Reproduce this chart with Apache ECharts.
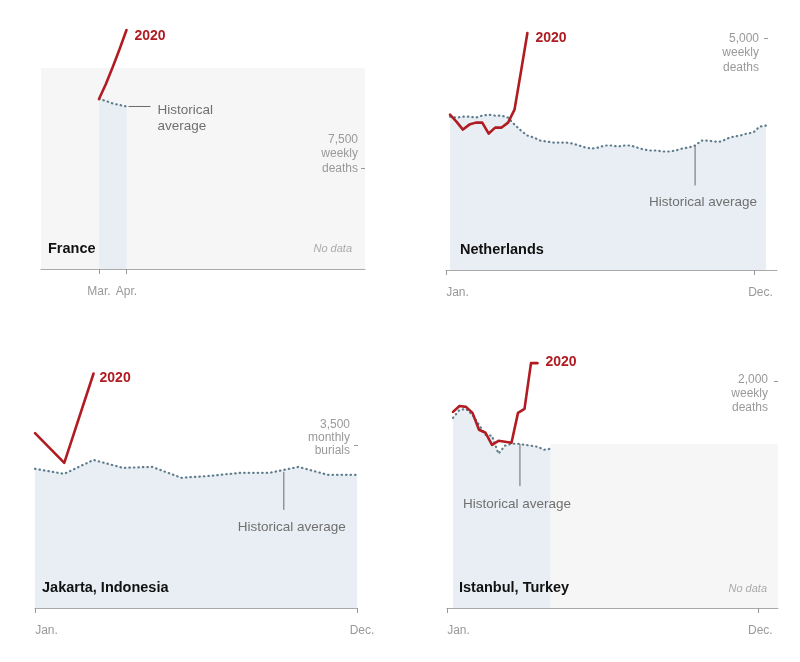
<!DOCTYPE html>
<html><head><meta charset="utf-8">
<script src="https://cdn.jsdelivr.net/npm/echarts@6/dist/echarts.min.js"></script>
<style>html,body{margin:0;padding:0;background:#fff}#c{width:800px;height:662px}</style>
</head><body><div id="c"></div>
<script>
// ---------------- data ----------------
// France (weekly, weeks of year)
const franceWeeks = [9, 10, 11, 12, 13];
const france2020 = [12560, 13670, 14930, 16260, 17660];
const franceHist = [12560, 12420, 12230, 12120, 12010];
const franceTickLabels = ['Mar.', 'Apr.'];
const franceTickWeeks = [9, 13];
const franceYTick = 7500;

// Netherlands (weekly, weeks 1..50 for average, 1..13 for 2020)
const nlHist = [3305,3283,3305,3305,3283,3326,3348,3326,3326,3283,
                3133,3004,2897,2854,2790,2768,2747,2747,2747,2725,
                2683,2640,2618,2640,2683,2683,2661,2683,2683,2640,
                2597,2575,2575,2554,2554,2575,2618,2640,2683,2790,
                2790,2768,2768,2833,2876,2897,2940,2961,3090,3112];
const nl2020 = [3348,3198,3026,3133,3176,3176,2940,3069,3069,3176,3455,4271,5107];
const nlTickLabels = ['Jan.', 'Dec.'];
const nlTickWeeks = [0.38, 48.13];
const nlYTick = 5000;

// Jakarta (monthly burials, Jan..Dec)
const jakartaMonths = [0,1,2,3,4,5,6,7,8,9,10,11];
const jakartaHist = [2988,2881,3180,3009,3030,2796,2838,2902,2902,3030,2860,2860];
const jakarta2020 = [3756,3116,5036];
const jakartaTickLabels = ['Jan.', 'Dec.'];
const jakartaTickMonths = [0, 11];
const jakartaYTick = 3500;

// Istanbul (weekly)
const istanbulHist = [1675,1745,1754,1701,1614,1526,1517,1359,1430,1447,1447,1438,1430,1421,1394,1403];
const istanbul2020 = [1728,1780,1772,1719,1570,1544,1438,1473,1465,1456,1719,1754,2157,2157];
const istanbulTickLabels = ['Jan.', 'Dec.'];
const istanbulTickWeeks = [0.077, 47.9];
const istanbulYTick = 2000;

// ---------------- styles ----------------
const FONT = '"Liberation Sans", Arial, sans-serif';
const RED = '#b01c22';
const DOT = '#5d7b8c';
const FILL = '#e8eef3';
const GREY = '#f6f6f6';
const AXIS = '#aaaaaa';
const LABEL = '#999999';

const chart = echarts.init(document.getElementById('c'), null, {renderer: 'canvas'});

function weekPairs(vals, start) { return vals.map((v, i) => [start + i, v]); }

function xAxisCfg(gi, min, max, ticks, labels, rich) {
  return {
    type: 'value', gridIndex: gi, min: min, max: max, position: 'bottom', offset: 2,
    axisLine: {show: true, lineStyle: {color: AXIS, width: 1}},
    axisTick: {show: true, customValues: ticks, length: 5, lineStyle: {color: LABEL}},
    axisLabel: {
      show: true, customValues: ticks, margin: 15, color: LABEL, fontSize: 12, fontFamily: FONT,
      align: 'center',
      formatter: function (v) {
        const i = ticks.indexOf(v);
        const s = labels[i];
        return rich ? '{' + (i === 0 ? 'a' : 'b') + '|' + s + '}' : s;
      },
      rich: rich || {}
    },
    splitLine: {show: false}
  };
}
function yAxisCfg(gi, max) {
  return {
    type: 'value', gridIndex: gi, min: 0, max: max, position: 'right',
    axisLine: {show: false}, axisTick: {show: false}, axisLabel: {show: false},
    splitLine: {show: false}
  };
}
function histSeries(gi, data, area) {
  const s = {
    type: 'line', xAxisIndex: gi, yAxisIndex: gi, data: data, symbol: 'none', z: 2,
    lineStyle: {color: DOT, width: 2.2, type: [0.5, 4], cap: 'round'},
    areaStyle: {color: FILL, opacity: 1}, silent: true
  };
  if (area) s.markArea = {silent: true, z: 1, itemStyle: {color: GREY}, data: [area]};
  return s;
}
function redSeries(gi, data) {
  return {
    type: 'line', xAxisIndex: gi, yAxisIndex: gi, data: data, symbol: 'none', z: 3, silent: true,
    lineStyle: {color: RED, width: 2.6, cap: 'round', join: 'round'}
  };
}
function rich(padA, padB) {
  return {
    a: {padding: [0, 0, 0, padA], color: LABEL, fontSize: 12, fontFamily: FONT},
    b: {padding: [0, 0, 0, padB], color: LABEL, fontSize: 12, fontFamily: FONT}
  };
}

const option = {
  animation: false,
  textStyle: {fontFamily: FONT},
  grid: [
    {left: 41, top: 20, width: 324, height: 249},
    {left: 446, top: 28, width: 331, height: 242},
    {left: 35, top: 365, width: 322, height: 243},
    {left: 447, top: 355, width: 331, height: 253}
  ],
  xAxis: [
    xAxisCfg(0, 0.56, 47.7, franceTickWeeks, franceTickLabels, null),
    xAxisCfg(1, 0.38, 51.7, nlTickWeeks, nlTickLabels, rich(23, 13)),
    xAxisCfg(2, 0, 11, jakartaTickMonths, jakartaTickLabels, rich(23, 10)),
    xAxisCfg(3, 0.077, 51.0, istanbulTickWeeks, istanbulTickLabels, rich(23, 5))
  ],
  yAxis: [
    yAxisCfg(0, 18400),
    yAxisCfg(1, 5215),
    yAxisCfg(2, 5218),
    yAxisCfg(3, 2229)
  ],
  series: [
    histSeries(0, franceWeeks.map((w, i) => [w, franceHist[i]]), [{coord: [0.56, 0]}, {coord: [47.7, 14850]}]),
    redSeries(0, franceWeeks.map((w, i) => [w, france2020[i]])),
    histSeries(1, weekPairs(nlHist, 1), null),
    redSeries(1, weekPairs(nl2020, 1)),
    histSeries(2, jakartaMonths.map((m, i) => [m, jakartaHist[i]]), null),
    redSeries(2, jakarta2020.map((v, i) => [jakartaMonths[i], v])),
    histSeries(3, weekPairs(istanbulHist, 1), [{coord: [16, 0]}, {coord: [51.0, 1447]}]),
    redSeries(3, weekPairs(istanbul2020, 1))
  ]
};
chart.setOption(option);

// ---------------- annotations (anchored through the scales) ----------------
function P(g, pt) { return chart.convertToPixel({gridIndex: g}, pt); }
function txt(x, y, text, o) {
  return Object.assign({type: 'text', x: x, y: y, z: 100, silent: true,
    style: Object.assign({text: text, fill: '#111', font: '14px ' + FONT, textAlign: 'left', textVerticalAlign: 'middle'}, o || {})});
}
function ln(x1, y1, x2, y2, color) {
  return {type: 'line', z: 100, silent: true, shape: {x1: x1, y1: y1, x2: x2, y2: y2}, style: {stroke: color || '#6a6a6a', lineWidth: 1}};
}
function lerp(arr, pos, start) {
  const k = pos - start, i = Math.floor(k), f = k - i;
  return arr[i] + (arr[Math.min(i + 1, arr.length - 1)] - arr[i]) * f;
}
// y-axis value label: short tick at the right edge, stacked text beside it
function yLabel(out, gi, xEdge, dx, tick, tickText, lines, tickLine, margin, lh, dy) {
  const p = P(gi, [xEdge, tick]);
  const x = p[0] + dx, y = Math.round(p[1]) + 0.5;
  out.push(ln(x - 4, y, x, y, LABEL));
  out.push(txt(x - margin, y - (tickLine + 0.5) * lh + dy, [tickText].concat(lines).join('\n'),
    {fill: LABEL, font: '12px ' + FONT, textAlign: 'right', textVerticalAlign: 'top', lineHeight: lh}));
}
const yearStyle = {fill: RED, font: 'bold 14px ' + FONT};
const histStyle = {fill: '#707070', font: '13.5px ' + FONT};
const titleStyle = {fill: '#111', font: 'bold 14.5px ' + FONT};
const noDataStyle = {fill: '#aaaaaa', font: 'italic 11px ' + FONT, textAlign: 'right'};

const g = [];
// France
let e = P(0, [franceWeeks[4], france2020[4]]);
g.push(txt(e[0] + 8, e[1] + 6, '2020', yearStyle));
let h = P(0, [franceWeeks[4], franceHist[4]]);
g.push(ln(h[0] + 2, h[1], h[0] + 24, h[1]));
g.push(txt(h[0] + 31, h[1] - 4, 'Historical\naverage', Object.assign({}, histStyle, {textVerticalAlign: 'top', lineHeight: 16})));
let b = P(0, [0.56, 0]);
g.push(txt(b[0] + 7, b[1] - 20, 'France', titleStyle));
let r = P(0, [47.7, 0]);
g.push(txt(r[0] - 13, r[1] - 20, 'No data', noDataStyle));
yLabel(g, 0, 47.7, 0, franceYTick, '7,500', ['weekly', 'deaths'], 2, 7, 14.5, 0);

// Netherlands
e = P(1, [nl2020.length, nl2020[nl2020.length - 1]]);
g.push(txt(e[0] + 8, e[1] + 5, '2020', yearStyle));
h = P(1, [39, nlHist[38]]);
g.push(ln(h[0], h[1], h[0], h[1] + 40));
g.push(txt(h[0] + 8, h[1] + 57, 'Historical average', Object.assign({}, histStyle, {textAlign: 'center'})));
b = P(1, [0.38, 0]);
g.push(txt(b[0] + 14, b[1] - 20, 'Netherlands', titleStyle));
yLabel(g, 1, 51.7, -9, nlYTick, '5,000', ['weekly', 'deaths'], 0, 9, 14.5, 0);

// Jakarta
e = P(2, [2, jakarta2020[2]]);
g.push(txt(e[0] + 6, e[1] + 5, '2020', yearStyle));
h = P(2, [8.5, lerp(jakartaHist, 8.5, 0)]);
g.push(ln(h[0], h[1] + 2, h[0], h[1] + 40));
g.push(txt(h[0] + 8, h[1] + 57, 'Historical average', Object.assign({}, histStyle, {textAlign: 'center'})));
b = P(2, [0, 0]);
g.push(txt(b[0] + 7, b[1] - 20, 'Jakarta, Indonesia', titleStyle));
yLabel(g, 2, 11, 1, jakartaYTick, '3,500', ['monthly', 'burials'], 2, 8, 13, 5);

// Istanbul
e = P(3, [istanbul2020.length, istanbul2020[istanbul2020.length - 1]]);
g.push(txt(e[0] + 8, e[1] - 1, '2020', yearStyle));
h = P(3, [11.3, lerp(istanbulHist, 11.3, 1)]);
g.push(ln(h[0], h[1], h[0], h[1] + 42));
g.push(txt(h[0] - 3, h[1] + 60, 'Historical average', Object.assign({}, histStyle, {textAlign: 'center'})));
b = P(3, [0.077, 0]);
g.push(txt(b[0] + 12, b[1] - 20, 'Istanbul, Turkey', titleStyle));
r = P(3, [51.0, 0]);
g.push(txt(r[0] - 11, r[1] - 19, 'No data', noDataStyle));
yLabel(g, 3, 51.0, 0, istanbulYTick, '2,000', ['weekly', 'deaths'], 0, 10, 14, -2);

chart.setOption({graphic: {elements: g}});
</script>
</body></html>
